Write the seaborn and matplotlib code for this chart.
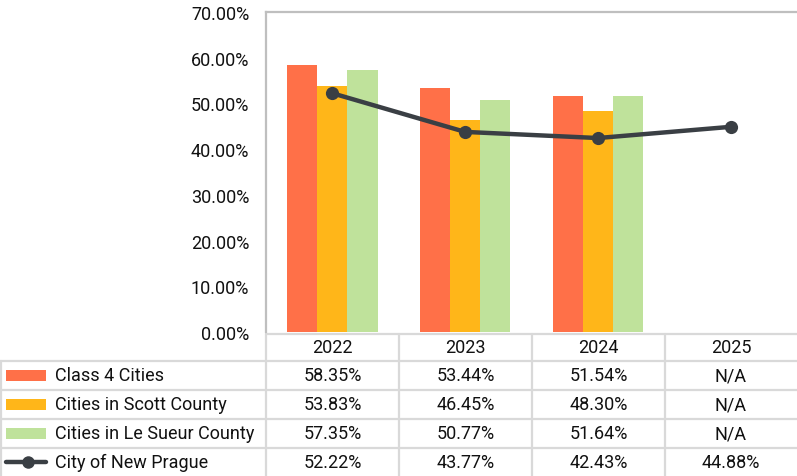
import numpy as np
import pandas as pd
import matplotlib
matplotlib.use("Agg")
import matplotlib.pyplot as plt
import seaborn as sns

years = ["2022", "2023", "2024", "2025"]
class4 = [58.35, 53.44, 51.54, np.nan]
scott = [53.83, 46.45, 48.30, np.nan]
lesueur = [57.35, 50.77, 51.64, np.nan]
newprague = [52.22, 43.77, 42.43, 44.88]
series_names = ["Class 4 Cities", "Cities in Scott County", "Cities in Le Sueur County", "City of New Prague"]
yticks = [0, 10, 20, 30, 40, 50, 60, 70]

colors = ["#FF7048", "#FFB619", "#BFE29B"]
line_color = "#3A3F44"

sns.set_theme(style="white")
plt.rcParams["font.family"] = ["Roboto", "DejaVu Sans"]

W, H = 797, 477
fs = 13
fig = plt.figure(figsize=(W / 100, H / 100), dpi=100)

# table axes in pixel coordinates (background)
tax = fig.add_axes([0, 0, 1, 1], zorder=0)
tax.set_xlim(0, W)
tax.set_ylim(H, 0)
tax.axis("off")

px_left, px_right, px_top, px_bot = 266, 797, 13, 333
ax = fig.add_axes([px_left / W, (H - px_bot) / H, (px_right - px_left) / W, (px_bot - px_top) / H], zorder=2)
ax.patch.set_alpha(0)

bar_df = pd.DataFrame({
    "year": years * 3,
    "value": class4 + scott + lesueur,
    "series": [series_names[0]] * 4 + [series_names[1]] * 4 + [series_names[2]] * 4,
})
sns.barplot(data=bar_df, x="year", y="value", hue="series", order=years,
            hue_order=series_names[:3], palette=colors, width=0.68, gap=0,
            saturation=1, legend=False, ax=ax, linewidth=0, errorbar=None)

line_df = pd.DataFrame({"x": np.arange(len(years)), "value": newprague})
sns.lineplot(data=line_df, x="x", y="value", color=line_color, linewidth=3.2,
             marker="o", markersize=9.5, markeredgewidth=0, ax=ax, zorder=5)

ax.set_xlim(-0.5, len(years) - 0.5)
ax.set_ylim(0, 70)
ax.set_yticks(yticks)
ax.set_yticklabels([f"{v:.2f}%" for v in yticks], fontsize=fs, color="#111111")
ax.tick_params(axis="y", length=0, pad=12)
ax.set_xticks([])
ax.set_xlabel("")
ax.set_ylabel("")
for s in ["right", "bottom"]:
    ax.spines[s].set_visible(False)
for s in ["left", "top"]:
    ax.spines[s].set_color("#BFBFBF")
    ax.spines[s].set_linewidth(1.6)

# table grid
gcol = "#D9D9D9"
lw = 1.6
col_edges = [266, 399, 532, 665, 797]
row_edges = [335, 362, 391, 420, 449, 477]
tax.plot([266, 797], [335, 335], color=gcol, lw=lw)
for y in row_edges[1:-1]:
    tax.plot([0, 797], [y, y], color=gcol, lw=lw)
for x in col_edges[:-1]:
    tax.plot([x, x], [335, 477], color=gcol, lw=lw)
tax.plot([1, 1], [362, 477], color=gcol, lw=lw)

centers = [(col_edges[i] + col_edges[i + 1]) / 2 for i in range(4)]
for cx, yr in zip(centers, years):
    tax.text(cx, 348.5, yr, ha="center", va="center", fontsize=fs, color="#111111")

rows = [class4, scott, lesueur, newprague]
for r, (name, vals) in enumerate(zip(series_names, rows)):
    yc = (row_edges[r + 1] + row_edges[r + 2]) / 2
    if r < 3:
        tax.add_patch(plt.Rectangle((6, yc - 5.5), 40, 11, color=colors[r], lw=0))
    else:
        tax.plot([6, 46], [yc, yc], color=line_color, lw=3.2, solid_capstyle="round")
        tax.plot([28], [yc], marker="o", color=line_color, markersize=9, markeredgewidth=0)
    tax.text(55, yc, name, ha="left", va="center", fontsize=fs, color="#111111")
    for cx, v in zip(centers, vals):
        txt = "N/A" if np.isnan(v) else f"{v:.2f}%"
        tax.text(cx, yc, txt, ha="center", va="center", fontsize=fs, color="#111111")

fig.savefig("out.png", dpi=100, facecolor="white")
